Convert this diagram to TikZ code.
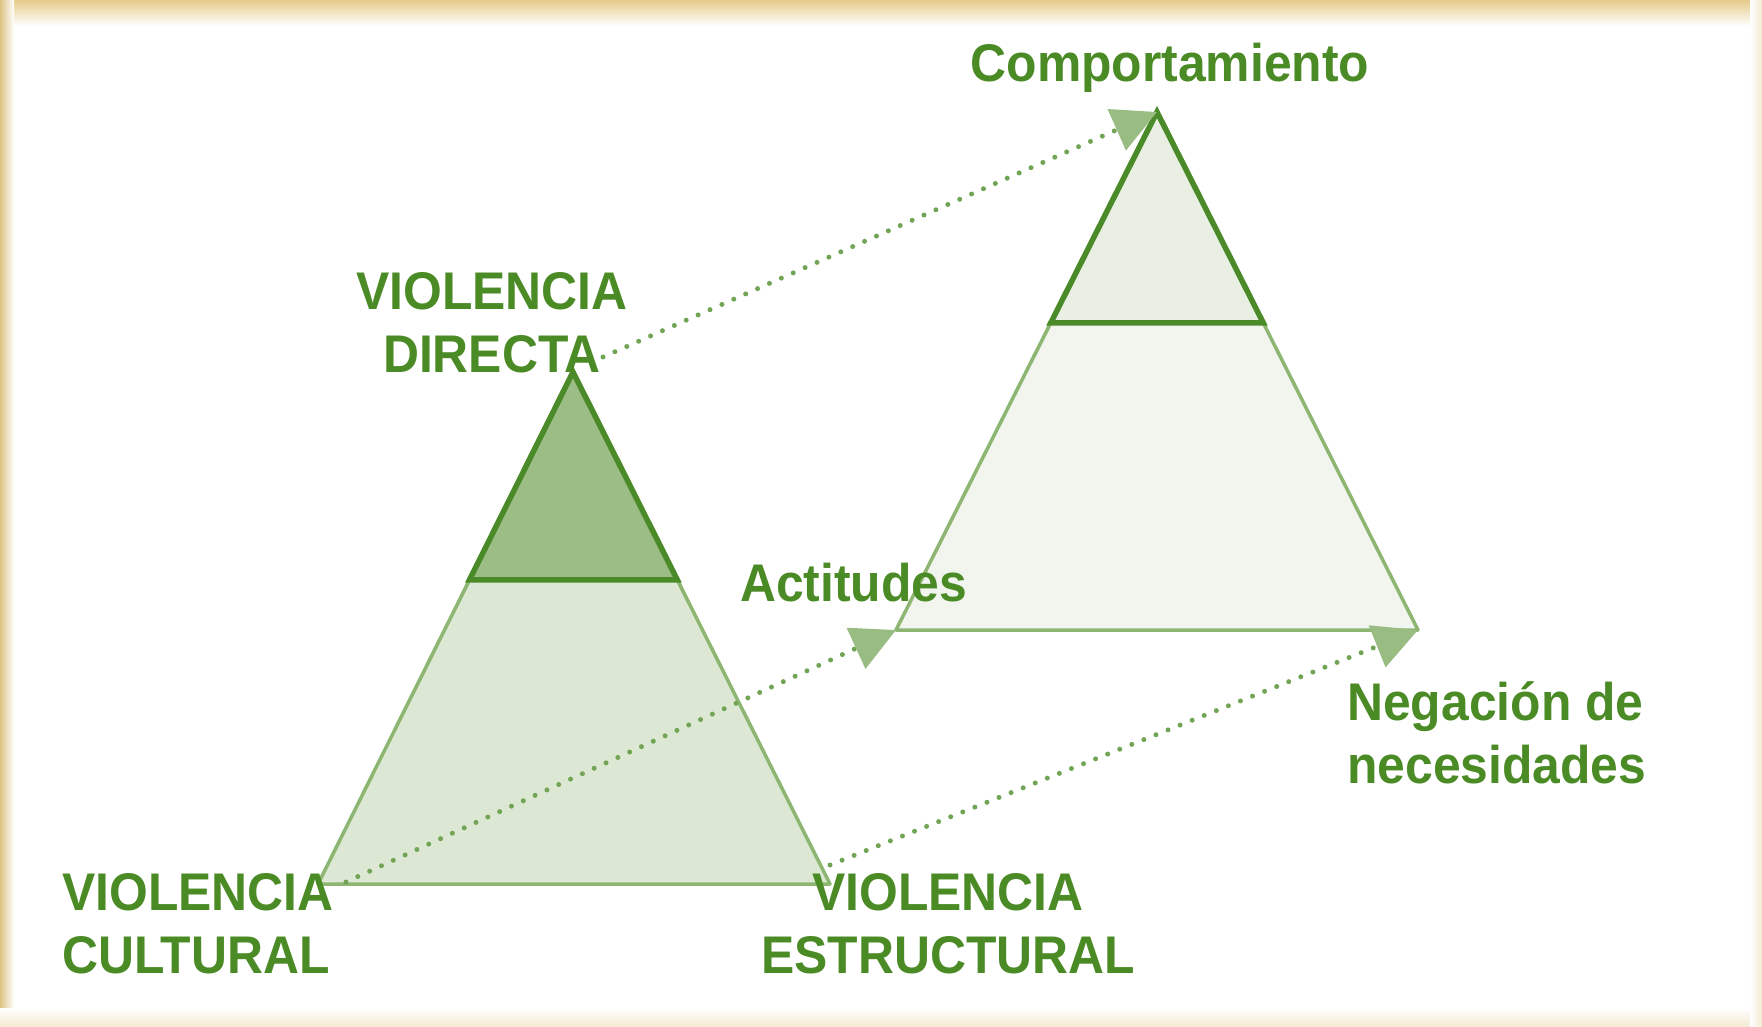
\documentclass[tikz,border=0pt]{standalone}
\usepackage{fontspec}
\newfontfamily\lblfont{Liberation Sans}[FakeStretch=0.94]
\usetikzlibrary{arrows.meta,calc}
\definecolor{txtgreen}{HTML}{4B8B26}
\definecolor{darkedge}{HTML}{4A8A28}
\definecolor{lightedge}{HTML}{8DB672}
\definecolor{topfillL}{HTML}{9CBD86}
\definecolor{botfillL}{HTML}{DDE8D4}
\definecolor{topfillR}{HTML}{E9F0E3}
\definecolor{botfillR}{HTML}{F2F5EE}
\definecolor{dotgreen}{HTML}{72A456}
\definecolor{tipgreen}{HTML}{98BC82}
\definecolor{framegold}{HTML}{E6CB8A}
\definecolor{frameside}{HTML}{DCC383}
\definecolor{framefaint}{HTML}{F5EAD2}
\begin{document}
\begin{tikzpicture}[x=1pt,y=-1pt,
  lbl/.style={text=txtgreen, inner sep=0pt, font=\lblfont\bfseries\fontsize{53}{63}\selectfont},
  lowerpart/.style={fill=#1, draw=lightedge, line width=3.5pt, line join=round},
  upperpart/.style={fill=#1, draw=darkedge, line width=5.5pt, line join=miter},
  dotarrow/.style={draw=dotgreen, line width=5pt, line cap=round, dash pattern=on 0pt off 13pt,
    -{Triangle[length=44pt,width=44pt,color=tipgreen,fill=tipgreen]}}]
\useasboundingbox (0,0) rectangle (1762,1027);
\fill[white] (0,0) rectangle (1762,1027);
% frame
\shade[top color=framegold, bottom color=white] (0,0) rectangle (1762,26);
\shade[left color=frameside, right color=white] (0,0) rectangle (14,1027);
\shade[top color=white, bottom color=framefaint] (0,1008) rectangle (1762,1027);
\shade[left color=white, right color=framefaint] (1750,0) rectangle (1762,1027);
% left triangle
\coordinate (LA) at (573,372);
\coordinate (LB) at (318,884);
\coordinate (LC) at (830,884);
\coordinate (LM1) at ($(LA)!0.406!(LB)$);
\coordinate (LM2) at ($(LA)!0.406!(LC)$);
\path[lowerpart=botfillL] (LM1) -- (LB) -- (LC) -- (LM2) -- cycle;
\path[upperpart=topfillL] (LA) -- (LM1) -- (LM2) -- cycle;
% right triangle
\coordinate (RA) at (1157,112);
\coordinate (RB) at (896,630);
\coordinate (RC) at (1418,630);
\coordinate (RM1) at ($(RA)!0.407!(RB)$);
\coordinate (RM2) at ($(RA)!0.407!(RC)$);
\path[lowerpart=botfillR] (RM1) -- (RB) -- (RC) -- (RM2) -- cycle;
\path[upperpart=topfillR] (RA) -- (RM1) -- (RM2) -- cycle;
% labels (base anchor = baseline of last line)
\node[lbl, align=center, anchor=base] (dir) at (492,372) {VIOLENCIA\\DIRECTA};
\node[lbl, anchor=base] (comp) at (1170,82) {Comportamiento};
\node[lbl, anchor=base west] (act) at (740,601) {Actitudes};
\node[lbl, align=left, anchor=base west] (neg) at (1347,783) {Negación de\\necesidades};
\node[lbl, align=left, anchor=base west] (cult) at (62,973) {VIOLENCIA\\CULTURAL};
\node[lbl, align=center, anchor=base] (estr) at (948,973) {VIOLENCIA\\ESTRUCTURAL};
% connectors
\coordinate (d0) at (603,357);
\coordinate (c0) at (346,882);
\coordinate (e0) at (830,865);
\draw[dotarrow] (d0) -- (RA);
\draw[dotarrow] (c0) -- (RB);
\draw[dotarrow] (e0) -- (RC);
\end{tikzpicture}
\end{document}
